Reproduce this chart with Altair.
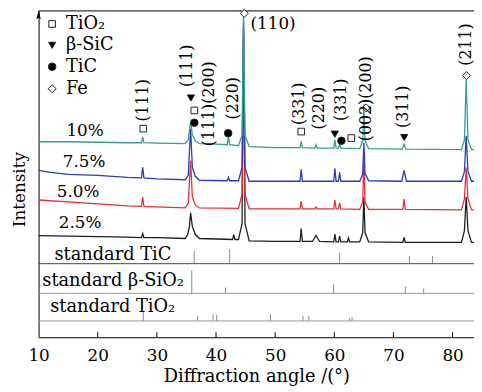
import altair as alt
import pandas as pd

XMIN, XMAX = 10, 83.62
YMAX = 331
FONT = "DejaVu Serif"

# ---------------- XRD patterns (x: 2theta deg, y: intensity, arbitrary offset units) ----------------
series_names = ["2.5%", "5.0%", "7.5%", "10%"]
series_colors = ["#1e1e1e", "#e2313a", "#2e3cae", "#3b9a95"]

x_25 = [10, 15, 20, 25, 27.4, 27.6, 27.8, 30, 34.8, 35.2, 35.5, 35.7, 36.0, 36.5, 37.2, 40, 42.8, 43.0,
        43.2, 43.8, 44.4, 44.65, 44.9, 45.6, 50, 54.2, 54.4, 54.6, 56.3, 56.9, 57.5, 59.9, 60.1, 60.3,
        60.7, 60.9, 61.1, 62.2, 62.4, 62.6, 64.3, 64.8, 65.0, 65.2, 65.8, 71.6, 71.8, 72.0, 81.5, 82.0,
        82.3, 82.6, 83.2, 83.62]
y_25 = [103, 102.5, 102, 101.5, 101, 105, 101, 101, 100, 104, 112, 126, 112, 104, 100, 99.5, 99, 104,
        99, 99, 115, 310, 115, 97.5, 97, 97, 110, 97, 97, 103, 97, 96.5, 104.5, 96.5,
        96.5, 102.5, 96.5, 96.5, 100.5, 96.5, 96.5, 106, 142, 106, 96.5, 96, 101, 96, 96, 108,
        142, 108, 96, 96]

x_50 = [10, 15, 20, 25, 27.4, 27.6, 27.8, 30, 34.8, 35.3, 35.7, 36.0, 36.5, 37.2, 43.8, 44.4, 44.65,
        44.9, 45.6, 54.2, 54.4, 54.6, 56.7, 56.9, 57.1, 59.9, 60.1, 60.3, 60.7, 60.9, 61.1, 64.3, 64.8,
        65.0, 65.2, 65.8, 71.6, 71.8, 72.0, 81.5, 82.0, 82.3, 82.6, 83.2, 83.62]
y_50 = [139, 137, 135, 133, 132.5, 142, 132.5, 132, 131, 136, 179, 142, 134, 131, 130.5, 145, 315,
        145, 130, 130, 138, 130, 130, 132, 130, 130, 139, 130, 130, 136, 130, 129.5, 137,
        179, 137, 129.5, 129.5, 140, 129.5, 129, 140, 172, 140, 129, 129]

x_75 = [10, 12, 15, 20, 25, 27.4, 27.6, 27.8, 30, 34.8, 35.3, 35.7, 36.0, 36.5, 37.2, 41.9, 42.1, 42.3,
        43.8, 44.4, 44.65, 44.9, 45.6, 54.2, 54.4, 54.6, 59.9, 60.1, 60.3, 60.7, 60.9, 61.1, 64.3, 64.8,
        65.0, 65.2, 65.8, 71.4, 71.8, 72.2, 81.5, 82.0, 82.3, 82.6, 83.2, 83.62]
y_75 = [169, 167, 165, 164, 162, 161.5, 172, 161.5, 160.5, 159.5, 164, 211, 172, 163, 159, 158.5, 162, 158.5,
        158.5, 172, 320, 172, 158, 158, 170, 158, 158, 171, 158, 158, 167, 158, 158, 165,
        197, 166, 158.5, 158, 169, 158, 158, 168, 204, 168, 158, 158]

x_10 = [10, 15, 20, 25, 27.4, 27.6, 27.8, 30, 34.8, 35.3, 35.7, 36.0, 36.5, 37.2, 40, 41.9, 42.1, 42.3,
        43.8, 44.4, 44.65, 44.9, 45.6, 50, 54.2, 54.4, 54.6, 56.7, 56.9, 57.1, 59.9, 60.1, 60.3, 60.7,
        60.9, 61.1, 64.3, 64.8, 65.0, 65.2, 65.8, 71.5, 71.8, 72.1, 81.5, 82.0, 82.3, 82.6, 83.2, 83.62]
y_10 = [198, 198, 197.5, 197, 197, 203, 197, 196.5, 196, 200, 218, 205, 199, 196, 195.5, 195, 204, 195,
        194, 205, 328, 205, 193, 192, 192, 198.5, 192, 191.5, 195, 191.5, 191.5, 200, 191.5, 191.5,
        196, 191.5, 191, 199, 236, 199, 191, 190.5, 195.5, 190.5, 190, 200, 261, 200, 190, 190]

# ---------------- standard reference patterns ----------------
std_names = ["standard TiC", "standard β-SiO₂", "standard TiO₂"]
std_base = [74.5, 44.5, 16.5]
std_label_x = [12.67, 10.62, 11.95]
std_label_y = [83, 57, 31]
std_line_colors = ["#444444", "#999999", "#999999"]

tic_pos = [36.3, 42.3, 60.9, 72.7, 76.6]
tic_h = [13, 15, 11, 8, 8]
sic_pos = [35.9, 41.6, 59.9, 72.0, 75.1]
sic_h = [23, 6, 9, 7, 5]
tio2_pos = [27.7, 36.9, 39.5, 40.1, 49.2, 54.7, 55.7, 62.6, 63.0]
tio2_h = [9, 5, 7, 6, 7, 5, 5, 3, 4]

# ---------------- phase markers ----------------
phase_names = ["TiO2", "SiC", "TiC", "Fe"]
phase_shapes = ["square", "triangle-down", "circle", "diamond"]
phase_fills = ["white", "black", "black", "white"]
phase_sizes = [45, 65, 45, 60]

marker_phase = ["TiO2", "TiO2", "TiO2", "TiO2", "SiC", "SiC", "SiC", "TiC", "TiC", "TiC", "Fe", "Fe", "Fe"]
marker_x = [27.70, 36.33, 54.41, 62.87, 35.76, 60.08, 71.82, 36.33, 42.05, 61.20, 44.77, 65.38, 82.34]
marker_y = [211.3, 229.7, 208.3, 201.7, 242.3, 205.7, 202.3, 217.3, 206.7, 199, 328, 232.3, 265]

legend_labels = ["TiO₂", "β-SiC", "TiC", "Fe"]
legend_y = [317.3, 295.7, 274, 251.7]
legend_marker_x = 12.29
legend_text_x = 14.62

# ---------------- annotations ----------------
peak_text = ["(111)", "(111)", "(111)(200)", "(220)", "(331)", "(220)", "(331)", "(002)(200)", "(311)", "(211)"]
peak_x = [27.70, 35.09, 38.83, 42.89, 54.12, 57.46, 61.08, 65.43, 71.65, 82.24]
peak_y = [240, 275, 236.5, 242, 236.5, 232, 240.5, 241.5, 233.5, 296.5]

fe110_text = "(110)"
fe110_x = 49.65
fe110_y = 317.3

sample_text = ["10%", "7.5%", "5.0%", "2.5%"]
sample_x = [17.85, 17.68, 16.68, 17.01]
sample_y = [209, 177, 147, 116]

tick_values = [20, 30, 40, 50, 60, 70, 80]
label_values = [10, 20, 30, 40, 50, 60, 70, 80]

# ---------------- build tables ----------------
curves = pd.concat([
    pd.DataFrame({"x": x_25, "y": y_25, "series": "2.5%"}),
    pd.DataFrame({"x": x_50, "y": y_50, "series": "5.0%"}),
    pd.DataFrame({"x": x_75, "y": y_75, "series": "7.5%"}),
    pd.DataFrame({"x": x_10, "y": y_10, "series": "10%"}),
], ignore_index=True)

sticks = pd.concat([
    pd.DataFrame({"x": tic_pos, "y": std_base[0], "y2": [std_base[0] + h for h in tic_h]}),
    pd.DataFrame({"x": sic_pos, "y": std_base[1], "y2": [std_base[1] + h for h in sic_h]}),
    pd.DataFrame({"x": tio2_pos, "y": std_base[2], "y2": [std_base[2] + h for h in tio2_h]}),
], ignore_index=True)

seps = pd.DataFrame({"x": XMIN, "x2": XMAX, "y": std_base, "c": std_line_colors})
std_lbl = pd.DataFrame({"x": std_label_x, "y": std_label_y, "t": std_names})
markers = pd.DataFrame({"x": marker_x, "y": marker_y, "phase": marker_phase})
leg_m = pd.DataFrame({"x": legend_marker_x, "y": legend_y, "phase": phase_names})
leg_t = pd.DataFrame({"x": legend_text_x, "y": legend_y, "t": legend_labels})
peaks = pd.DataFrame({"x": peak_x, "y": peak_y, "t": peak_text})
fe110 = pd.DataFrame({"x": [fe110_x], "y": [fe110_y], "t": [fe110_text]})
samples = pd.DataFrame({"x": sample_x, "y": sample_y, "t": sample_text})
ticks = pd.DataFrame({"x": tick_values, "y": 0, "y2": 5})
top = pd.DataFrame({"x": [XMIN], "x2": [XMAX], "y": [YMAX - 0.5]})
arrow = pd.DataFrame({"x": [XMIN], "y": [YMAX - 6]})

xs = alt.Scale(domain=[XMIN, XMAX], nice=False, zero=False)
ys = alt.Scale(domain=[0, YMAX], nice=False, zero=False)

x_axis = alt.Axis(values=label_values, ticks=False, grid=False, domainColor="black", domainWidth=1,
                  labelFont=FONT, labelFontSize=17, labelColor="black", labelPadding=11,
                  labelFlush=False, labelOverlap=False,
                  title="Diffraction angle /(°)", titleFont=FONT, titleFontSize=18,
                  titleFontWeight="normal", titleColor="black", titleY=45, titleBaseline="alphabetic")
y_axis = alt.Axis(labels=False, ticks=False, grid=False, domainColor="black", domainWidth=1,
                  title="Intensity", titleFont=FONT, titleFontSize=17, titleFontWeight="normal",
                  titleColor="black", titleX=-19, titleY=181, titleAngle=270, titleAlign="center",
                  titleBaseline="middle")


def X(first=False):
    if first:
        return alt.X("x:Q", scale=xs, axis=x_axis)
    return alt.X("x:Q", scale=xs)


def Y(first=False):
    if first:
        return alt.Y("y:Q", scale=ys, axis=y_axis)
    return alt.Y("y:Q", scale=ys)


base_curves = alt.Chart(curves).mark_line(strokeWidth=1.3).encode(
    x=X(True), y=Y(True),
    color=alt.Color("series:N", scale=alt.Scale(domain=series_names, range=series_colors), legend=None),
    order="x:Q",
)

stick_layer = alt.Chart(sticks).mark_rule(color="#8a8a8a", strokeWidth=1).encode(
    x=X(), y=Y(), y2="y2:Q")

sep_layer = alt.Chart(seps).mark_rule(strokeWidth=1).encode(
    x=X(), x2="x2:Q", y=Y(), color=alt.Color("c:N", scale=None, legend=None))

top_layer = alt.Chart(top).mark_rule(color="black", strokeWidth=1).encode(x=X(), x2="x2:Q", y=Y())

tick_layer = alt.Chart(ticks).mark_rule(color="black", strokeWidth=1).encode(x=X(), y=Y(), y2="y2:Q")

arrow_layer = alt.Chart(arrow).mark_point(
    shape="M0,-1L0.38,0.5L0,0.25L-0.38,0.5Z", filled=True, color="black", size=144, opacity=1
).encode(x=X(), y=Y())

shape_enc = dict(
    shape=alt.Shape("phase:N", scale=alt.Scale(domain=phase_names, range=phase_shapes), legend=None),
    fill=alt.Fill("phase:N", scale=alt.Scale(domain=phase_names, range=phase_fills), legend=None),
    size=alt.Size("phase:N", scale=alt.Scale(domain=phase_names, range=phase_sizes), legend=None),
)

marker_layer = alt.Chart(markers).mark_point(filled=True, stroke="#222222", strokeWidth=1, opacity=1).encode(
    x=X(), y=Y(), **shape_enc)
leg_marker_layer = alt.Chart(leg_m).mark_point(filled=True, stroke="#222222", strokeWidth=1, opacity=1).encode(
    x=X(), y=Y(), **shape_enc)

leg_text_layer = alt.Chart(leg_t).mark_text(font=FONT, fontSize=18, align="left", baseline="middle",
                                            color="black").encode(x=X(), y=Y(), text="t:N")

peak_layer = alt.Chart(peaks).mark_text(font=FONT, fontSize=16, angle=270, align="center",
                                        baseline="middle", color="black").encode(x=X(), y=Y(), text="t:N")

fe110_layer = alt.Chart(fe110).mark_text(font=FONT, fontSize=17, align="center", baseline="middle",
                                         color="black").encode(x=X(), y=Y(), text="t:N")

sample_layer = alt.Chart(samples).mark_text(font=FONT, fontSize=17, align="center", baseline="middle",
                                            color="black").encode(x=X(), y=Y(), text="t:N")

std_layer = alt.Chart(std_lbl).mark_text(font=FONT, fontSize=18, align="left", baseline="middle",
                                         color="black").encode(x=X(), y=Y(), text="t:N")

chart = alt.layer(
    base_curves, stick_layer, sep_layer, top_layer, tick_layer, arrow_layer,
    marker_layer, leg_marker_layer, leg_text_layer, peak_layer, fe110_layer, sample_layer, std_layer,
).properties(
    width=441, height=331,
    autosize=alt.AutoSizeParams(type="none"),
    padding={"left": 31, "top": 0, "right": 0, "bottom": 53},
).configure_view(stroke=None)

chart.save("out.html", embed_options={"renderer": "svg", "actions": False})
